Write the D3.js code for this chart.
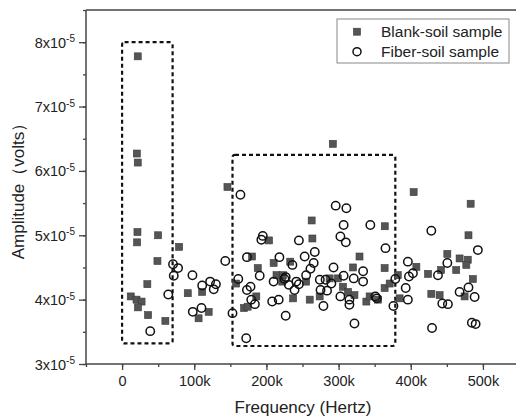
<!DOCTYPE html>
<html><head><meta charset="utf-8">
<script src="https://cdn.jsdelivr.net/npm/d3@7"></script>
<style>body{margin:0;background:#fff}svg{display:block}text{font-family:Arial,"Liberation Sans",sans-serif}</style>
</head><body><svg id="c" width="516" height="418"></svg>
<script>
// Frequency in kHz, amplitude in units of 1e-5 volts
const blankFreq = [21.7,20.4,21.7,21.3,20.8,49.9,49,35,12,20,27,22,36,60,
 79,91,106,111,120,146,158,169,174,180,188,186,
 262.7,263.7,203.6,364,363.8,329,210,233,214,223,222,237,260,287.6,299,306,313,322,338.5,343,354.6,363.8,370.8,382,384.6,
 407.8,424,428.5,440,442,450.7,463,467.7,479,477,480,483,486,474.6,292,404,320,273.8,255];
const blankAmp = [7.78,6.27,6.13,5.05,4.89,5.0,4.6,4.24,4.05,4.0,3.97,3.88,3.76,3.67,
 4.82,4.10,3.71,4.12,3.81,5.75,4.25,3.87,3.89,4.67,4.49,4.05,
 5.23,4.95,4.92,5.14,4.49,4.67,4.57,4.59,4.38,4.38,4.28,4.02,4.0,4.33,4.33,4.20,4.12,4.07,3.97,4.05,4.0,4.18,4.25,4.38,4.02,
 4.51,4.40,4.09,4.07,4.46,4.71,4.46,4.64,4.62,4.54,5.0,5.49,4.32,4.05,6.42,5.67,4.5,4.05,4.28];
const fiberFreq = [39,64,70.6,77.6,71.6,164,97.5,98,111,110,122,127,130,143,153,161,172,173,173,178,179,184,
 296,310.8,307,302.5,310,344,365,195,193,245,218,267,253,265.5,236,261,226.7,225,255,190.7,210,241.5,231,245,239,274,282,293,307,321,334,334,290,275,284,302.5,315,315,279,208,217,226.7,322,351,353,378.6,376,393,396,397.5,403,396,
 428.5,429.5,437.7,450.7,443.7,451.5,467.7,480,493,488.5,484.7,489.9];
const fiberAmp = [3.51,4.08,4.55,4.49,4.37,5.63,4.38,3.81,4.22,3.87,4.28,4.16,4.24,4.60,3.79,4.32,3.40,4.66,4.15,4.20,4.0,3.93,
 5.46,5.42,5.16,4.98,4.89,5.16,4.80,4.99,4.93,4.92,4.66,4.74,4.67,4.57,4.54,4.48,4.35,4.32,4.38,4.37,4.28,4.28,4.23,4.24,4.15,4.31,4.31,4.50,4.37,4.33,4.44,4.28,4.25,4.15,4.14,4.05,4.0,3.92,3.90,3.97,4.0,3.75,3.63,4.05,4.02,4.32,3.90,4.18,4.59,4.36,4.41,4.0,
 5.07,3.56,4.38,4.57,3.94,3.93,4.12,4.19,4.77,4.04,3.64,3.62];
const xTicks = [0,100,200,300,400,500];
const xTickLabels = ["0","100k","200k","300k","400k","500k"];
const yTicks = [3,4,5,6,7,8];
const yTickLabels = ["3x10","4x10","5x10","6x10","7x10","8x10"];
const boxes = [{x0:0,x1:70,y0:3.32,y1:8.0},{x0:153,x1:378.6,y0:3.28,y1:6.25}];
const seriesNames = ["Blank-soil sample","Fiber-soil sample"];

const svg = d3.select("#c");
const x = d3.scaleLinear().domain([-50,550]).range([86,519]);
const y = d3.scaleLinear().domain([3,8.5]).range([364,10]);
const axisColor = "#444";

// frame top line
svg.append("line").attr("x1",x(-50)).attr("x2",x(550)).attr("y1",y(8.5)).attr("y2",y(8.5))
  .attr("stroke",axisColor).attr("stroke-width",1.5);

// x axis
const gx = svg.append("g").attr("transform",`translate(0,${y(3)})`);
gx.call(d3.axisBottom(x).tickValues(d3.range(-50,551,50)).tickSize(3).tickFormat(""));
gx.call(g=>{g.selectAll("line").attr("stroke",axisColor).attr("stroke-width",1.3);g.select(".domain").remove();});
const gx2 = svg.append("g").attr("transform",`translate(0,${y(3)})`);
gx2.call(d3.axisBottom(x).tickValues(xTicks).tickSize(6).tickPadding(6).tickFormat((d,i)=>xTickLabels[i]));
gx2.select(".domain").remove();
gx2.selectAll("line").attr("stroke",axisColor).attr("stroke-width",1.3);
gx2.selectAll("text").attr("font-size","14.5px").attr("fill","#222").attr("font-family","Arial, 'Liberation Sans', sans-serif");
svg.append("line").attr("x1",x(-50)).attr("x2",x(550)).attr("y1",y(3)).attr("y2",y(3)).attr("stroke",axisColor).attr("stroke-width",1.5);

// y axis
const gy = svg.append("g").attr("transform",`translate(${x(-50)},0)`);
gy.call(d3.axisLeft(y).tickValues(d3.range(3,8.51,0.5)).tickSize(3).tickFormat(""));
gy.call(g=>{g.selectAll("line").attr("stroke",axisColor).attr("stroke-width",1.3);g.select(".domain").remove();});
const gy2 = svg.append("g").attr("transform",`translate(${x(-50)},0)`);
gy2.call(d3.axisLeft(y).tickValues(yTicks).tickSize(7).tickPadding(10).tickFormat(""));
gy2.select(".domain").remove();
gy2.selectAll("line").attr("stroke",axisColor).attr("stroke-width",1.3);
gy2.selectAll(".tick").append("text").attr("x",-11).attr("dy","0.35em").attr("text-anchor","end")
  .attr("font-size","14.5px").attr("fill","#222")
  .each(function(d,i){
    const t=d3.select(this);
    t.append("tspan").text(yTickLabels[i]);
    t.append("tspan").attr("font-size","10px").attr("dy","-0.55em").text("-5");
  });
svg.append("line").attr("x1",x(-50)).attr("x2",x(-50)).attr("y1",y(3)).attr("y2",y(8.5)).attr("stroke",axisColor).attr("stroke-width",1.5);

// dashed boxes
svg.append("g").selectAll("rect").data(boxes).join("rect")
  .attr("x",d=>x(d.x0)).attr("y",d=>y(d.y1)).attr("width",d=>x(d.x1)-x(d.x0)).attr("height",d=>y(d.y0)-y(d.y1))
  .attr("rx",2.5).attr("fill","none").attr("stroke","#111").attr("stroke-width",2.2).attr("stroke-dasharray","4,3");

// squares
const blank = blankFreq.map((f,i)=>[f,blankAmp[i]]);
const fiber = fiberFreq.map((f,i)=>[f,fiberAmp[i]]);
const s=7;
svg.append("g").selectAll("rect").data(blank).join("rect")
  .attr("x",d=>x(d[0])-s/2).attr("y",d=>y(d[1])-s/2).attr("width",s).attr("height",s)
  .attr("fill","#555").attr("stroke","#3a3a3a").attr("stroke-width",0.6);
svg.append("g").selectAll("circle").data(fiber).join("circle")
  .attr("cx",d=>x(d[0])).attr("cy",d=>y(d[1])).attr("r",4.2)
  .attr("fill","none").attr("stroke","#111").attr("stroke-width",1.5);

// legend
const lg = svg.append("g");
lg.append("rect").attr("x",337).attr("y",19).attr("width",172).attr("height",44).attr("fill","#fff").attr("stroke","#888").attr("stroke-width",1);
lg.append("rect").attr("x",357-3.5).attr("y",31.7-3.5).attr("width",7).attr("height",7).attr("fill","#555").attr("stroke","#3a3a3a").attr("stroke-width",0.6);
lg.append("circle").attr("cx",357).attr("cy",51.7).attr("r",4).attr("fill","none").attr("stroke","#111").attr("stroke-width",1.5);
lg.append("text").attr("x",381).attr("y",31.7).attr("dy","0.36em").attr("font-size","15.5px").attr("fill","#222").text(seriesNames[0]);
lg.append("text").attr("x",381).attr("y",51.7).attr("dy","0.36em").attr("font-size","15.5px").attr("fill","#222").text(seriesNames[1]);

// axis titles
svg.append("text").attr("x",303).attr("y",413).attr("text-anchor","middle").attr("font-size","17px").attr("fill","#222").text("Frequency (Hertz)");
svg.append("text").attr("transform",`translate(24,${(y(3)+y(8.5))/2}) rotate(-90)`).attr("text-anchor","middle")
  .attr("font-size","17px").attr("fill","#222").text("Amplitude（volts）");
</script></body></html>
